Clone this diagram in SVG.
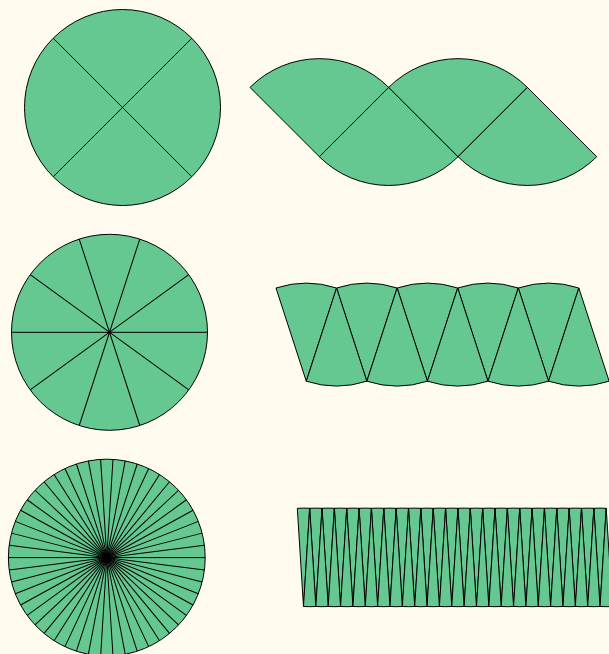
<svg xmlns="http://www.w3.org/2000/svg" xmlns:xlink="http://www.w3.org/1999/xlink" width="609" height="654" viewBox="0 0 609 654">
<style>
.f{fill:#66c891;stroke:#000;stroke-width:1;stroke-linejoin:round}
.l{stroke:#000;stroke-width:1}
</style>
<defs>
<path id="d1" class="f" d="M0,0 L-69.35,-69.3 A98,98 0 0 1 69.35,-69.3 Z"/>
<path id="u1" class="f" d="M0,0 L69.35,69.3 A98,98 0 0 1 -69.35,69.3 Z"/>
<path id="d2" class="f" d="M0,0 L-30.28,-93.2 A98,98 0 0 1 30.28,-93.2 Z"/>
<path id="u2" class="f" d="M0,0 L30.28,93.2 A98,98 0 0 1 -30.28,93.2 Z"/>
<path id="d3" class="f" d="M0,0 L-6.18,-98.2 A98.4,98.4 0 0 1 6.18,-98.2 Z"/>
<path id="u3" class="f" d="M0,0 L6.18,98.2 A98.4,98.4 0 0 1 -6.18,98.2 Z"/>
<line id="l2" class="l" x1="11.5" y1="332.3" x2="207.5" y2="332.3"/>
<line id="l3" class="l" x1="8.4" y1="557.6" x2="205.2" y2="557.6"/>
</defs>
<rect width="609" height="654" fill="#fffcef"/>

<g id="circle1">
<circle class="f" cx="122.5" cy="107.5" r="98"/>
<line class="l" x1="53.2" y1="38.2" x2="191.8" y2="176.8"/>
<line class="l" x1="191.8" y1="38.2" x2="53.2" y2="176.8"/>
</g>

<g id="strip1">
<use href="#d1" x="319.35" y="156.7"/>
<use href="#u1" x="388.7" y="87.4"/>
<use href="#d1" x="458.05" y="156.7"/>
<use href="#u1" x="527.4" y="87.4"/>
</g>

<g id="circle2">
<circle class="f" cx="109.5" cy="332.3" r="98"/>
<use href="#l2"/>
<use href="#l2" transform="rotate(36 109.5 332.3)"/>
<use href="#l2" transform="rotate(72 109.5 332.3)"/>
<use href="#l2" transform="rotate(108 109.5 332.3)"/>
<use href="#l2" transform="rotate(144 109.5 332.3)"/>
</g>

<g id="strip2">
<use href="#d2" x="306.28" y="381.2"/>
<use href="#d2" x="366.85" y="381.2"/>
<use href="#d2" x="427.42" y="381.2"/>
<use href="#d2" x="487.99" y="381.2"/>
<use href="#d2" x="548.56" y="381.2"/>
<use href="#u2" x="336.57" y="288"/>
<use href="#u2" x="397.14" y="288"/>
<use href="#u2" x="457.71" y="288"/>
<use href="#u2" x="518.28" y="288"/>
<use href="#u2" x="578.85" y="288"/>
</g>

<g id="circle3">
<circle class="f" cx="106.8" cy="557.6" r="98.4"/>
<use href="#l3"/>
<use href="#l3" transform="rotate(7.2 106.8 557.6)"/>
<use href="#l3" transform="rotate(14.4 106.8 557.6)"/>
<use href="#l3" transform="rotate(21.6 106.8 557.6)"/>
<use href="#l3" transform="rotate(28.8 106.8 557.6)"/>
<use href="#l3" transform="rotate(36 106.8 557.6)"/>
<use href="#l3" transform="rotate(43.2 106.8 557.6)"/>
<use href="#l3" transform="rotate(50.4 106.8 557.6)"/>
<use href="#l3" transform="rotate(57.6 106.8 557.6)"/>
<use href="#l3" transform="rotate(64.8 106.8 557.6)"/>
<use href="#l3" transform="rotate(72 106.8 557.6)"/>
<use href="#l3" transform="rotate(79.2 106.8 557.6)"/>
<use href="#l3" transform="rotate(86.4 106.8 557.6)"/>
<use href="#l3" transform="rotate(93.6 106.8 557.6)"/>
<use href="#l3" transform="rotate(100.8 106.8 557.6)"/>
<use href="#l3" transform="rotate(108 106.8 557.6)"/>
<use href="#l3" transform="rotate(115.2 106.8 557.6)"/>
<use href="#l3" transform="rotate(122.4 106.8 557.6)"/>
<use href="#l3" transform="rotate(129.6 106.8 557.6)"/>
<use href="#l3" transform="rotate(136.8 106.8 557.6)"/>
<use href="#l3" transform="rotate(144 106.8 557.6)"/>
<use href="#l3" transform="rotate(151.2 106.8 557.6)"/>
<use href="#l3" transform="rotate(158.4 106.8 557.6)"/>
<use href="#l3" transform="rotate(165.6 106.8 557.6)"/>
<use href="#l3" transform="rotate(172.8 106.8 557.6)"/>
</g>

<g id="strip3">
<use href="#d3" x="303.48" y="606.5"/>
<use href="#d3" x="315.84" y="606.5"/>
<use href="#d3" x="328.19" y="606.5"/>
<use href="#d3" x="340.55" y="606.5"/>
<use href="#d3" x="352.91" y="606.5"/>
<use href="#d3" x="365.27" y="606.5"/>
<use href="#d3" x="377.62" y="606.5"/>
<use href="#d3" x="389.98" y="606.5"/>
<use href="#d3" x="402.34" y="606.5"/>
<use href="#d3" x="414.69" y="606.5"/>
<use href="#d3" x="427.05" y="606.5"/>
<use href="#d3" x="439.41" y="606.5"/>
<use href="#d3" x="451.76" y="606.5"/>
<use href="#d3" x="464.12" y="606.5"/>
<use href="#d3" x="476.48" y="606.5"/>
<use href="#d3" x="488.84" y="606.5"/>
<use href="#d3" x="501.19" y="606.5"/>
<use href="#d3" x="513.55" y="606.5"/>
<use href="#d3" x="525.91" y="606.5"/>
<use href="#d3" x="538.26" y="606.5"/>
<use href="#d3" x="550.62" y="606.5"/>
<use href="#d3" x="562.98" y="606.5"/>
<use href="#d3" x="575.33" y="606.5"/>
<use href="#d3" x="587.69" y="606.5"/>
<use href="#d3" x="600.05" y="606.5"/>
<use href="#u3" x="309.66" y="508.3"/>
<use href="#u3" x="322.02" y="508.3"/>
<use href="#u3" x="334.37" y="508.3"/>
<use href="#u3" x="346.73" y="508.3"/>
<use href="#u3" x="359.09" y="508.3"/>
<use href="#u3" x="371.45" y="508.3"/>
<use href="#u3" x="383.80" y="508.3"/>
<use href="#u3" x="396.16" y="508.3"/>
<use href="#u3" x="408.52" y="508.3"/>
<use href="#u3" x="420.87" y="508.3"/>
<use href="#u3" x="433.23" y="508.3"/>
<use href="#u3" x="445.59" y="508.3"/>
<use href="#u3" x="457.94" y="508.3"/>
<use href="#u3" x="470.30" y="508.3"/>
<use href="#u3" x="482.66" y="508.3"/>
<use href="#u3" x="495.02" y="508.3"/>
<use href="#u3" x="507.37" y="508.3"/>
<use href="#u3" x="519.73" y="508.3"/>
<use href="#u3" x="532.09" y="508.3"/>
<use href="#u3" x="544.44" y="508.3"/>
<use href="#u3" x="556.80" y="508.3"/>
<use href="#u3" x="569.16" y="508.3"/>
<use href="#u3" x="581.51" y="508.3"/>
<use href="#u3" x="593.87" y="508.3"/>
<use href="#u3" x="606.23" y="508.3"/>
</g>
</svg>
